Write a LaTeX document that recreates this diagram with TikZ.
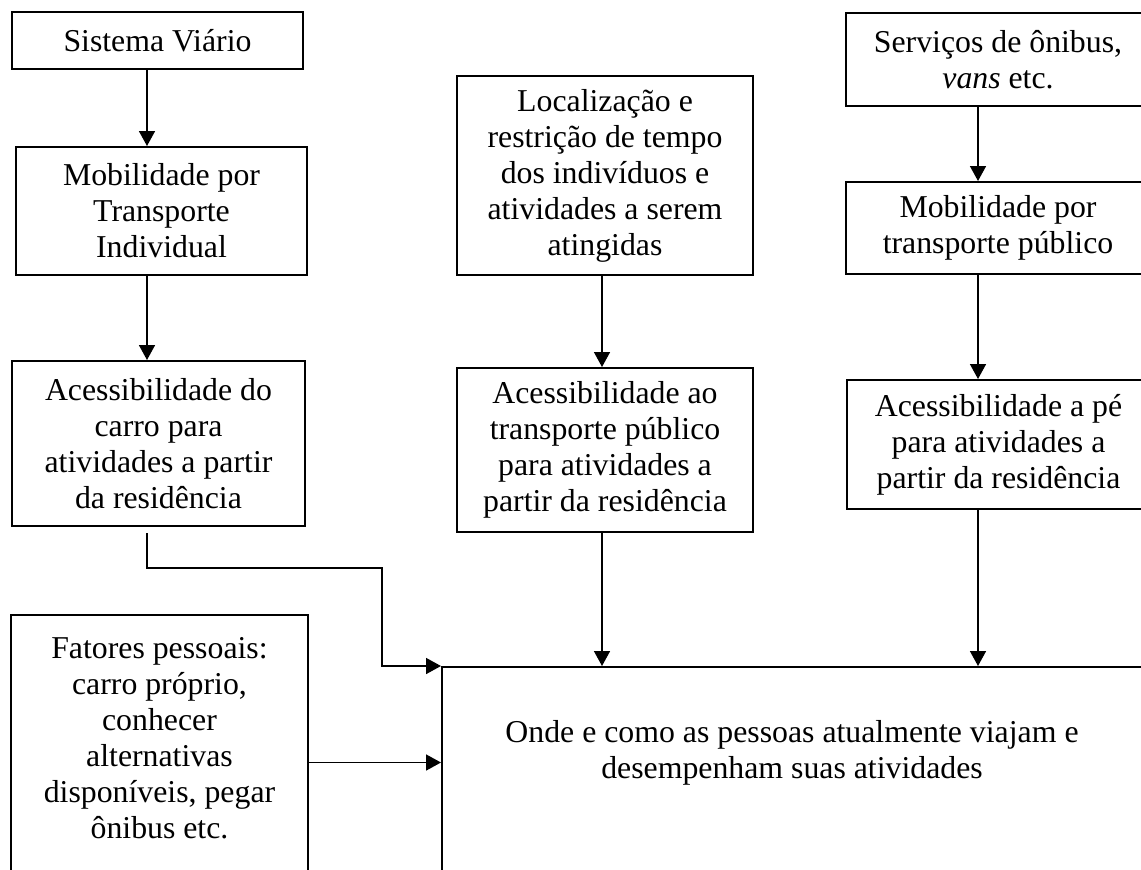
\documentclass[tikz,border=0pt]{standalone}
\usepackage{fontspec}
\setmainfont{Liberation Serif}
\usetikzlibrary{arrows.meta,positioning,calc}

\begin{document}
\begin{tikzpicture}[x=0.5pt,y=-0.5pt,
  box/.style={draw,line width=1pt,align=center,inner sep=0pt,font=\fontsize{15.9}{18}\selectfont},
  lbl/.style={align=center,inner sep=0pt,font=\fontsize{15.9}{18}\selectfont},
  arr/.style={line width=0.8pt,-{Triangle[length=7.5pt,width=8pt]}}]
% Page frame (boxes at the right and bottom run off it)
\path[use as bounding box,clip] (0,0) rectangle (1141,869);

% Columns of the vertical connectors
\coordinate (colA) at (147,0);
\coordinate (colB) at (602,0);
\coordinate (colC) at (978,0);

% Left column: individual transport
\node[box,minimum width=145.5pt,minimum height=28.5pt] (sis) at (157.5,40.5) {Sistema Viário};
\node[box,minimum width=145.5pt,minimum height=64pt] (mobInd) at (161.5,211) {Mobilidade por\\Transporte\\Individual};
\node[box,minimum width=146.5pt,minimum height=82.5pt] (accCar) at (158.5,443.5) {Acessibilidade do\\carro para\\atividades a partir\\da residência};

% Middle column: location and time
\node[box,minimum width=148pt,minimum height=99.5pt] (loc) at (605,175.5) {Localização e\\restrição de tempo\\dos indivíduos e\\atividades a serem\\atingidas};
\node[box,minimum width=148pt,minimum height=82pt] (accPub) at (605,450) {Acessibilidade ao\\transporte público\\para atividades a\\partir da residência};

% Right column: public transport
\node[box,minimum width=152pt,minimum height=46.5pt] (serv) at (998,59.5) {Serviços de ônibus,\\\textit{vans} etc.};
\node[box,minimum width=152pt,minimum height=46pt] (mobPub) at (998,228) {Mobilidade por\\transporte público};
\node[box,minimum width=151.5pt,minimum height=64.5pt] (accPe) at (998.5,444.5) {Acessibilidade a pé\\para atividades a\\partir da residência};

% Bottom row
\node[box,minimum width=148.5pt,minimum height=147.5pt] (fat) at (159.5,762.5) {};
\node[lbl] (fatTxt) at (159.5,738.5) {Fatores pessoais:\\carro próprio,\\conhecer\\alternativas\\disponíveis, pegar\\ônibus etc.};
\node[box,minimum width=351.5pt,minimum height=126.5pt] (onde) at (793.5,793.5) {};
\node[lbl] (ondeTxt) at (792,753) {Onde e como as pessoas atualmente viajam e\\desempenham suas atividades};

% Connectors
\draw[arr] (sis.south -| colA) -- (mobInd.north -| colA);
\draw[arr] (mobInd.south -| colA) -- (accCar.north -| colA);
\coordinate (bend) at (382,568);
\draw[arr] ([yshift=-3pt]accCar.south -| colA) |- (bend) |- (onde.north west);
\draw[arr] (loc.south -| colB) -- (accPub.north -| colB);
\draw[arr] (accPub.south -| colB) -- (onde.north -| colB);
\draw[arr] (serv.south -| colC) -- (mobPub.north -| colC);
\draw[arr] (mobPub.south -| colC) -- (accPe.north -| colC);
\draw[arr] (accPe.south -| colC) -- (onde.north -| colC);
\draw[arr] (fat.east) -- (fat.east -| onde.west);
\end{tikzpicture}
\end{document}
